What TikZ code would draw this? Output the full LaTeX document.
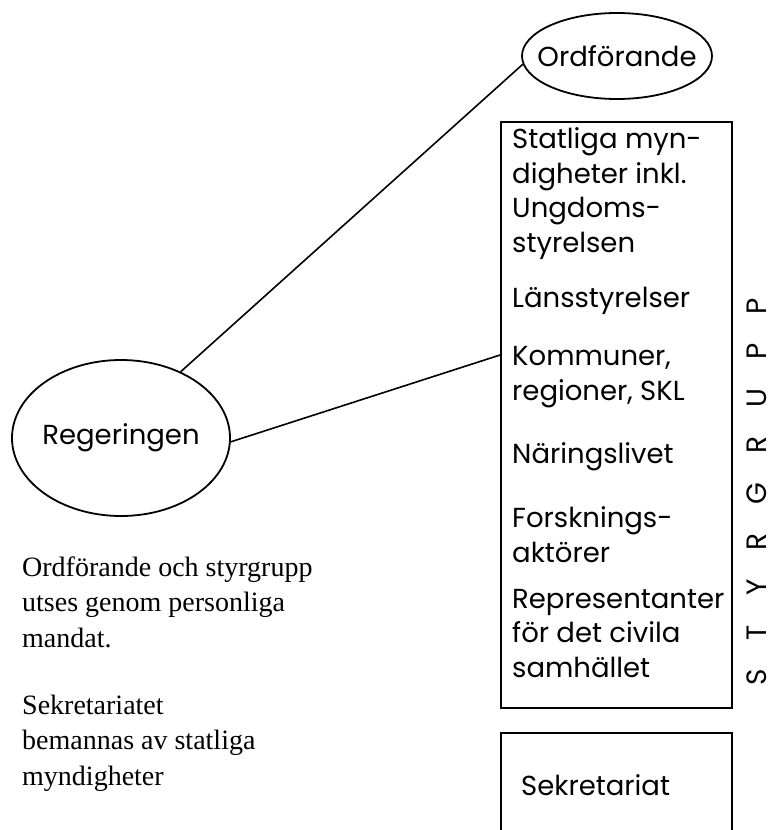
\documentclass[tikz,border=0pt]{standalone}
\usepackage{fontspec}
\setmainfont{Liberation Serif}
\newfontfamily\gothic{Poppins}
\usetikzlibrary{shapes.geometric}
\tikzset{
  oval/.style={draw, line width=1.8pt, ellipse, inner sep=0pt, label={[inner sep=0pt, font=\gothic\fontsize{27.5}{30}\selectfont]center:#1}},
  frame/.style={draw, line width=1.8pt, inner sep=0pt},
  conn/.style={line width=1.6pt},
  item/.style={anchor=base west, align=left, inner sep=0pt, font=\gothic\fontsize{27.5}{34.5}\selectfont},
  note/.style={anchor=base west, align=left, inner sep=0pt, font=\fontsize{28}{35.5}\selectfont}
}
\begin{document}
\begin{tikzpicture}[x=1pt,y=-1pt]
\useasboundingbox (0,0) rectangle (777,830);
\clip (0,0) rectangle (777,830);
\node[oval=Ordförande, minimum width=190pt, minimum height=86pt] (ord) at (617,56) {};
\node[oval=Regeringen, minimum width=218pt, minimum height=156pt] (reg) at (121,438) {};
\node[frame, minimum width=231pt, minimum height=586pt] (box) at (616.5,415) {};
\node[frame, minimum width=231pt, minimum height=140pt] (sek) at (616.5,803) {};
\node[anchor=base west, inner sep=0pt, font=\gothic\fontsize{27.5}{30}\selectfont] (sektext) at (521,795) {Sekretariat};
\draw[conn] (reg.48) -- (ord.185);
\coordinate (boxin) at ([yshift=60pt]box.west);
\draw[conn] (reg.-2) -- (boxin);
\node[item] (i1) at (512,252) {Statliga myn-\\digheter inkl.\\Ungdoms-\\styrelsen};
\node[item] (i2) at (512,307) {Länsstyrelser};
\node[item] (i3) at (512,400) {Kommuner,\\regioner, SKL};
\node[item] (i4) at (512,463) {Näringslivet};
\node[item] (i5) at (512,562) {Forsknings-\\aktörer};
\node[item] (i6) at (512,677) {Representanter\\för det civila\\samhället};
\node[rotate=90, anchor=base, inner sep=0pt, font=\gothic\fontsize{28}{30}\selectfont] (styr) at (766,492)
  {S\hspace{29pt}T\hspace{29pt}Y\hspace{29pt}R\hspace{29pt}G\hspace{29pt}R\hspace{29pt}U\hspace{29pt}P\hspace{29pt}P};
\node[note] (n1) at (22,647) {Ordförande och styrgrupp\\utses genom personliga\\mandat.};
\node[note] (n2) at (22,785) {Sekretariatet\\bemannas av statliga\\myndigheter};
\end{tikzpicture}
\end{document}
